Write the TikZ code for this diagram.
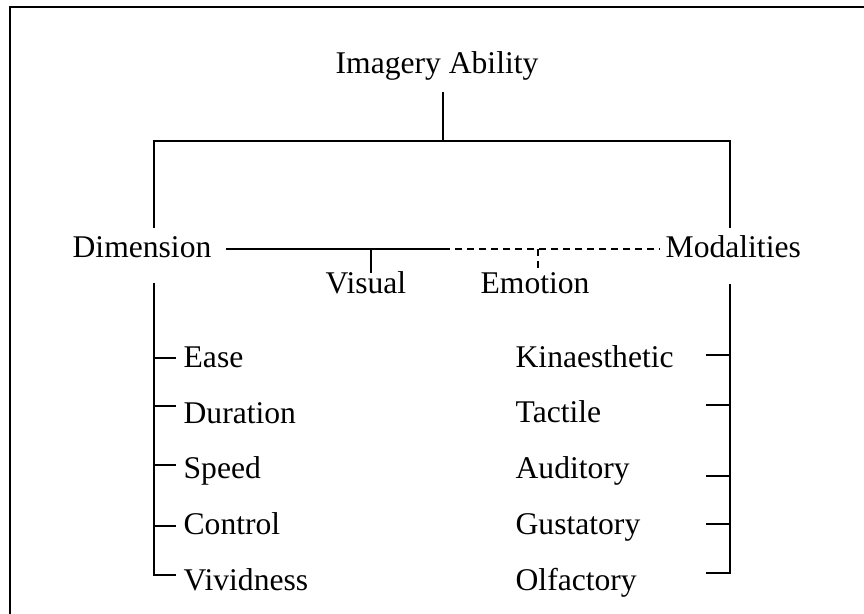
\documentclass[tikz,border=0pt]{standalone}
\usepackage{fontspec}
\setmainfont{Liberation Serif}
\usetikzlibrary{positioning}

\begin{document}
\begin{tikzpicture}[x=0.75pt,y=-0.75pt,line width=1pt]
  \tikzstyle{lbl}=[inner sep=0pt,anchor=base west,font=\fontsize{23.7}{28}\selectfont]
  \tikzstyle{dashline}=[dash pattern=on 5.5pt off 3.5pt]
  \useasboundingbox (0,0) rectangle (864,614);
  \clip (0,0) rectangle (864,614);
  \draw (10,7) rectangle (880,630);

  % labels
  \node[lbl] (ability) at (335,73) {Imagery Ability};
  \node[lbl] (dim) at (72,257) {Dimension};
  \node[lbl] (mod) at (665,257) {Modalities};
  \node[lbl] (vis) at (325,293) {Visual};
  \node[lbl] (emo) at (480,293) {Emotion};
  \foreach \name/\txt/\y in {ease/Ease/367,dur/Duration/423,speed/Speed/478,ctrl/Control/534,viv/Vividness/590}
    \node[lbl] (\name) at (183,\y) {\txt};
  \foreach \name/\txt/\y in {kin/Kinaesthetic/367,tac/Tactile/422,aud/Auditory/478,gus/Gustatory/534,olf/Olfactory/590}
    \node[lbl] (\name) at (515,\y) {\txt};

  % top bracket
  \coordinate (root) at (443,92);
  \coordinate (root-b) at (443,141);
  \coordinate (br-l) at (154,141);
  \coordinate (br-r) at (730,141);
  \draw (root) -- (root-b);
  \draw (154,228) -- (br-l) -- (br-r) -- (730,228);

  % middle line
  \coordinate (mid-l) at (226,249);
  \coordinate (mid-c) at (443,249);
  \coordinate (mid-r) at (660,249);
  \draw (mid-l) -- (mid-c);
  \draw[dashline] (mid-c) -- (mid-r);
  \draw (371,249) -- (371,273);
  \draw[dashline] (538,249) -- (538,270);

  % dimension list
  \draw (154,283) -- (154,575) -- (176,575);
  \foreach \y in {358,406,465,526}
    \draw (154,\y) -- (176,\y);

  % modality list
  \draw (730,284) -- (730,573) -- (706,573);
  \foreach \y in {355,405,476,524}
    \draw (730,\y) -- (706,\y);
\end{tikzpicture}
\end{document}
